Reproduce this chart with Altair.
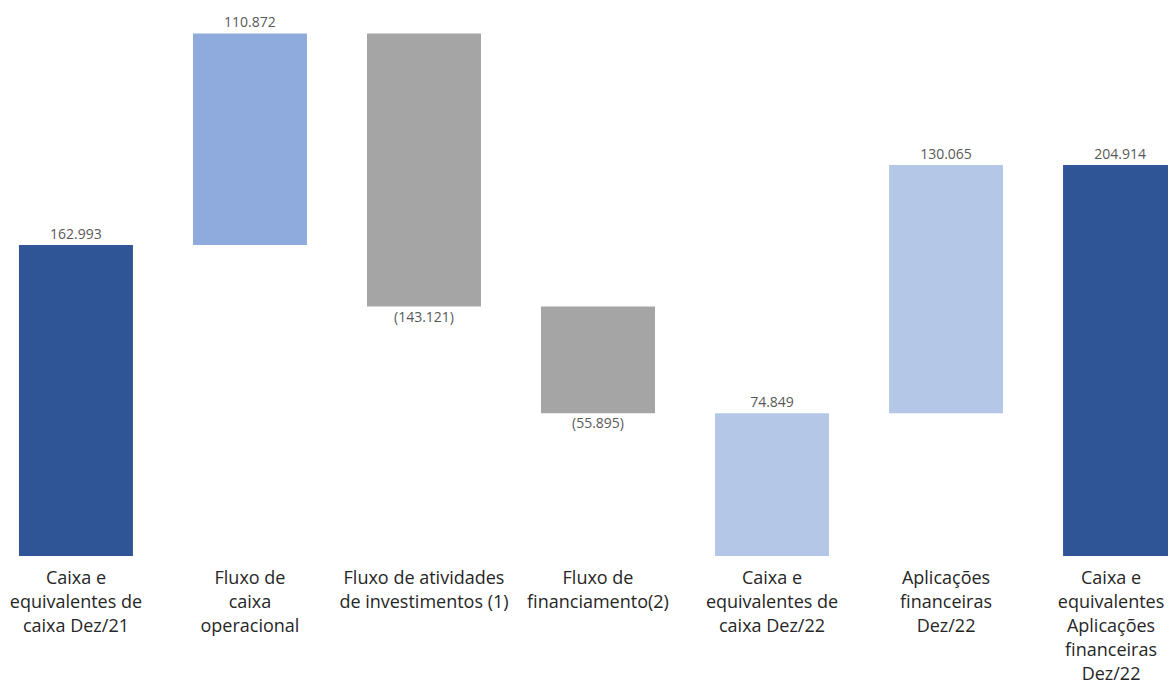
import altair as alt
import pandas as pd

categories = [
    "Caixa e\nequivalentes de\ncaixa Dez/21",
    "Fluxo de\ncaixa\noperacional",
    "Fluxo de atividades\nde investimentos (1)",
    "Fluxo de\nfinanciamento(2)",
    "Caixa e\nequivalentes de\ncaixa Dez/22",
    "Aplicações\nfinanceiras\nDez/22",
    "Caixa e\nequivalentes\nAplicações\nfinanceiras\nDez/22",
]
values = [162.993, 110.872, -143.121, -55.895, 74.849, 130.065, 204.914]
is_total = [True, False, False, False, True, False, True]
bar_colors = ["#2F5597", "#8FAADC", "#A5A5A5", "#A5A5A5", "#B4C7E7", "#B4C7E7", "#2F5597"]

rows = []
cum = 0.0
for i, (c, v, t) in enumerate(zip(categories, values, is_total)):
    if t:
        start, end = 0.0, v
        cum = v
    else:
        start, end = cum, cum + v
        cum = end
    if v < 0:
        label = "(" + f"{abs(v):.3f}" + ")"
    else:
        label = f"{v:.3f}"
    rows.append({
        "cat": c, "order": i, "start": start, "end": end,
        "top": max(start, end), "bottom": min(start, end),
        "label": label, "neg": v < 0, "ckey": str(i),
    })
df = pd.DataFrame(rows)

xenc = alt.X(
    "cat:N", sort=categories, title=None,
    scale=alt.Scale(range=[0, 1180], paddingInner=0.345, paddingOuter=0.063),
    axis=alt.Axis(
        labelAngle=0, domain=False, ticks=False, labelPadding=13,
        labelFont="Open Sans", labelFontSize=18, labelLineHeight=24,
        labelColor="#262626", labelLimit=400,
        labelOffset={"condition": {"test": "datum.index == 1", "value": -9}, "value": 0},
        labelExpr="split(datum.label, '\\n')",
    ),
)
yscale = alt.Scale(domain=[0, 287.2], nice=False, zero=False)

base = alt.Chart(df)

bars = base.mark_bar().encode(
    x=xenc,
    y=alt.Y("start:Q", scale=yscale, axis=None),
    y2="end:Q",
    color=alt.Color("ckey:N", scale=alt.Scale(domain=[str(i) for i in range(len(categories))], range=bar_colors), legend=None),
)

pos_text = base.transform_filter("!datum.neg").mark_text(
    baseline="bottom", dy=-3, font="Open Sans", fontSize=14, color="#595959"
).encode(x=alt.X("cat:N", sort=categories), y=alt.Y("top:Q", scale=yscale), text="label:N")

neg_text = base.transform_filter("datum.neg").mark_text(
    baseline="top", dy=4, font="Open Sans", fontSize=14, color="#595959"
).encode(x=alt.X("cat:N", sort=categories), y=alt.Y("bottom:Q", scale=yscale), text="label:N")

chart = alt.layer(bars, pos_text, neg_text).properties(
    width=1160, height=548,
    autosize=alt.AutoSizeParams(type="none"),
    padding={"left": 0, "top": 0, "right": 0, "bottom": 131},
).configure_view(stroke=None)

chart.save("out.html", embed_options={"renderer": "svg", "actions": False})
